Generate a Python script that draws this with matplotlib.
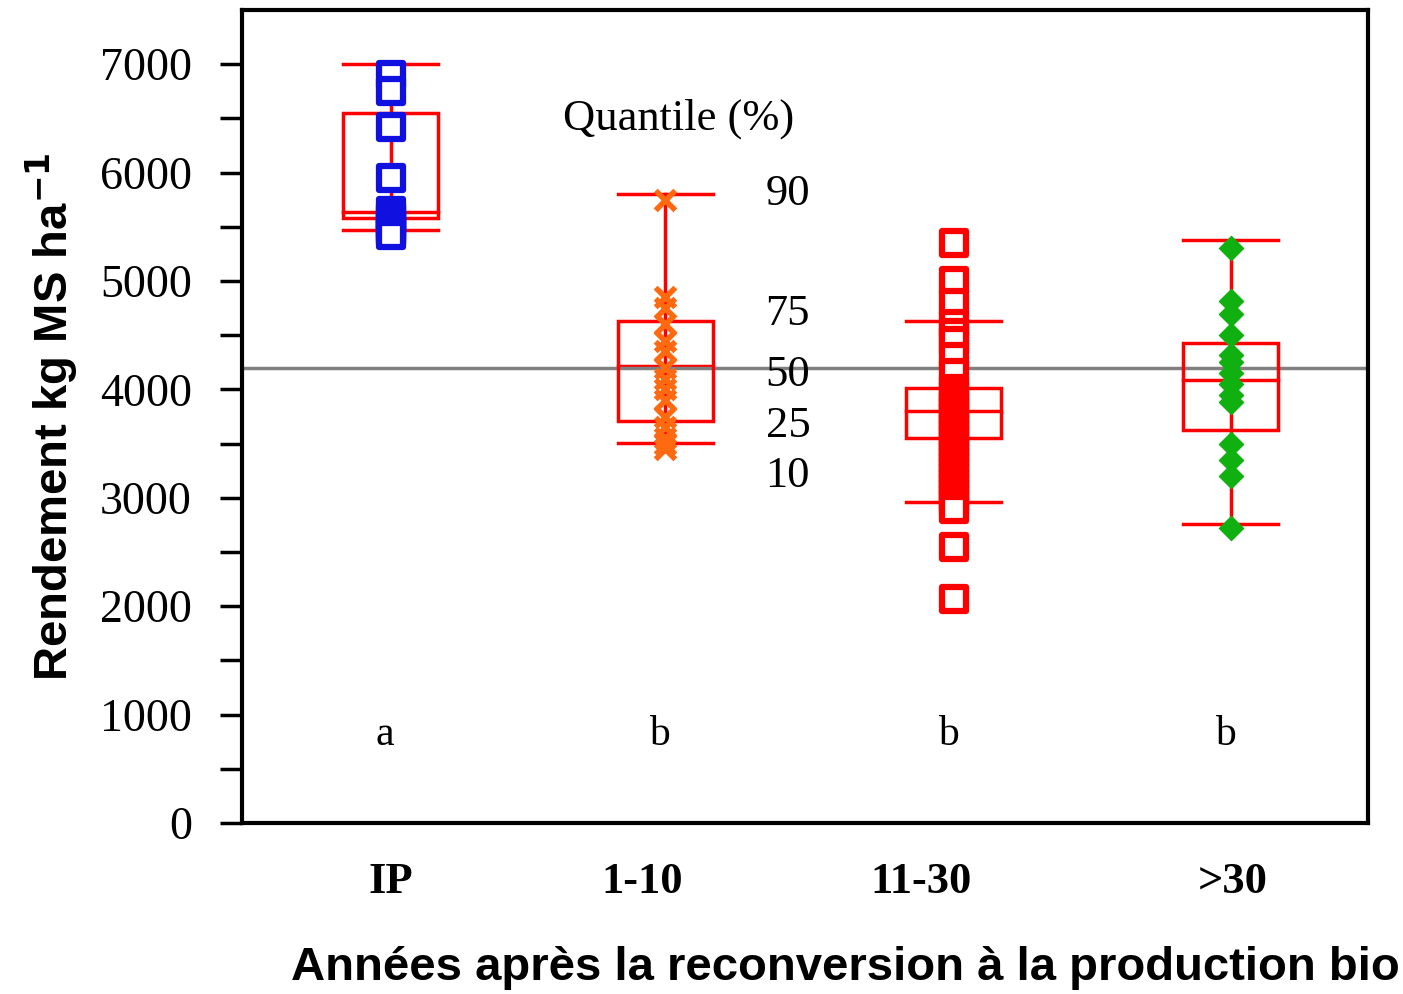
import numpy as np
import matplotlib.pyplot as plt

# groups and summary stats (kg MS/ha)
groups = ['IP', '1-10', '11-30', '>30']
letters = ['a', 'b', 'b', 'b']
positions = [1.32, 3.76, 6.32, 8.78]
label_pos = [1.32, 3.55, 6.03, 8.80]
p10 = [5470, 3505, 2960, 2760]
p25 = [5580, 3710, 3550, 3625]
p50 = [5640, 4215, 3800, 4085]
p75 = [6550, 4630, 4010, 4430]
p90 = [7000, 5800, 4630, 5380]

pts_ip = [6900, 6750, 6420, 5950, 5650, 5600, 5570, 5530, 5500, 5470, 5450, 5420]
pts_110 = [5750, 4850, 4750, 4600, 4450, 4350, 4200, 4100, 4000, 3900, 3750, 3650, 3550, 3500, 3450]
pts_1130 = [5350, 5000, 4800, 4600, 4520, 4450, 4300, 4150, 4000, 3950, 3900, 3850, 3800, 3750,
            3700, 3650, 3600, 3550, 3500, 3450, 3400, 3350, 3300, 3250, 3200, 3150, 3100, 3050,
            3000, 2950, 2900, 2550, 2070]
pts_30 = [5300, 4820, 4700, 4500, 4320, 4250, 4150, 4050, 3950, 3880, 3500, 3350, 3200, 2720]
points = [pts_ip, pts_110, pts_1130, pts_30]
markers = ['s', 'x', 's', 'D']
colors = ['#1010e0', '#ff6a10', '#ff0000', '#10b010']

plt.rcParams['font.family'] = 'Liberation Serif'
fig = plt.figure(figsize=(14.03, 9.94), dpi=100)
ax = fig.add_axes([242/1403, 1-823/994, 1126/1403, 813/994])
ax.set_xlim(0, 10)
ax.set_ylim(0, 7500)

hw = 0.42
for i, x in enumerate(positions):
    c = 'red'
    ax.plot([x, x], [p10[i], p90[i]], color=c, lw=2.5)
    ax.plot([x - hw, x + hw], [p10[i]] * 2, color=c, lw=2.5)
    ax.plot([x - hw, x + hw], [p90[i]] * 2, color=c, lw=2.5)
    ax.add_patch(plt.Rectangle((x - hw, p25[i]), 2 * hw, p75[i] - p25[i], fill=False, ec=c, lw=2.5, zorder=3))
    ax.plot([x - hw, x + hw], [p50[i]] * 2, color=c, lw=2.5)
    if markers[i] == 'x':
        ax.scatter([x] * len(points[i]), points[i], marker='x', s=200, color=colors[i], lw=4, zorder=4)
    elif markers[i] == 's':
        ax.scatter([x] * len(points[i]), points[i], marker='s', s=320, facecolor='white',
                   edgecolor=colors[i], lw=4.5, zorder=4)
    else:
        ax.scatter([x] * len(points[i]), points[i], marker='D', s=150, color=colors[i], zorder=4)
    ax.text(x - 0.05, 720, letters[i], ha='center', fontsize=30)
    ax.text(label_pos[i], -650, groups[i], ha='center', fontsize=32, fontweight='bold')

ax.axhline(4200, color='gray', lw=2.5, zorder=2)

ax.text(2.85, 6400, 'Quantile (%)', fontsize=32)
for q, y in zip(['90', '75', '50', '25', '10'], [5800, 4700, 4130, 3660, 3200]):
    ax.text(4.65, y, q, fontsize=32, va='center')

ax.set_yticks(range(0, 7001, 1000))
ax.set_yticks(range(500, 7500, 1000), minor=True)
ax.set_xticks([])
ax.tick_params(axis='y', which='both', direction='out', length=16, width=2.5, labelsize=33)
ax.tick_params(axis='y', which='major', pad=20)
for s in ax.spines.values():
    s.set_linewidth(3)
ax.set_ylabel('Rendement kg MS ha$^{\\mathbf{-1}}$', fontsize=34, fontweight='bold', family='Liberation Sans', labelpad=14)
fig.text(1400/1403, 1-968/994, 'Années après la reconversion à la production bio', ha='right', va='center',
         fontsize=34, fontweight='bold', family='Liberation Sans')
fig.savefig('out.png')
